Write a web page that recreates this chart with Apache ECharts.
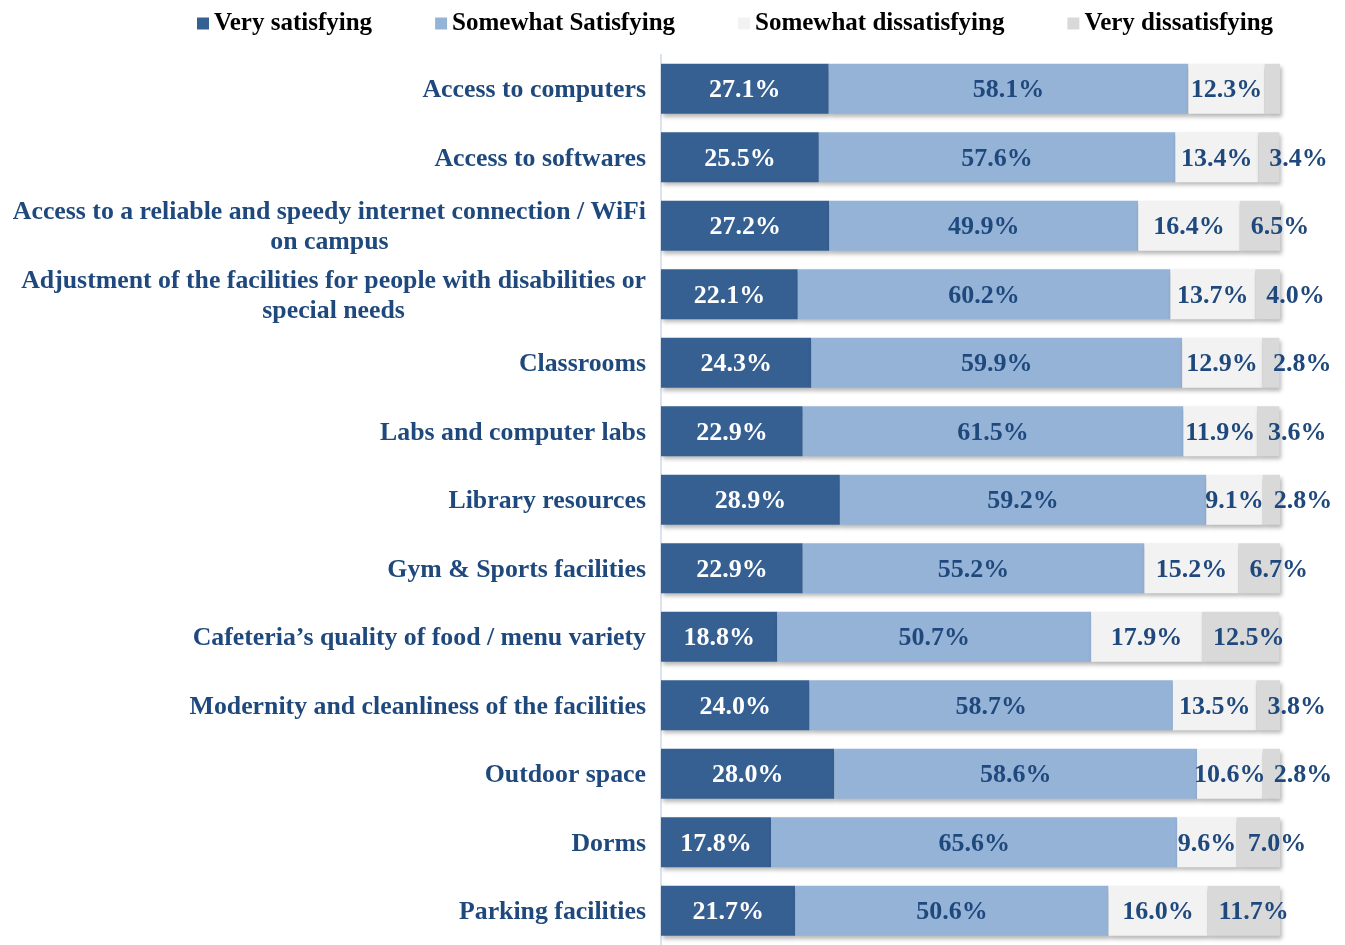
<!DOCTYPE html>
<html>
<head>
<meta charset="utf-8">
<script src="https://cdn.jsdelivr.net/npm/echarts@6/dist/echarts.min.js"></script>
<style>html,body{margin:0;padding:0;background:#fff;}#c{width:1345px;height:945px;}</style>
</head>
<body>
<div id="c"></div>
<script>
const categories = [
  "Access to computers",
  "Access to softwares",
  "Access to a reliable and speedy internet connection / WiFi\non campus",
  "Adjustment of the facilities for people with disabilities or\nspecial needs",
  "Classrooms",
  "Labs and computer labs",
  "Library resources",
  "Gym & Sports facilities",
  "Cafeteria\u2019s quality of food / menu variety",
  "Modernity and cleanliness of the facilities",
  "Outdoor space",
  "Dorms",
  "Parking facilities"
];
const seriesNames = ["Very satisfying", "Somewhat Satisfying", "Somewhat dissatisfying", "Very dissatisfying"];
const verySatisfying = [27.1, 25.5, 27.2, 22.1, 24.3, 22.9, 28.9, 22.9, 18.8, 24.0, 28.0, 17.8, 21.7];
const somewhatSatisfying = [58.1, 57.6, 49.9, 60.2, 59.9, 61.5, 59.2, 55.2, 50.7, 58.7, 58.6, 65.6, 50.6];
const somewhatDissatisfying = [12.3, 13.4, 16.4, 13.7, 12.9, 11.9, 9.1, 15.2, 17.9, 13.5, 10.6, 9.6, 16.0];
const veryDissatisfying = [2.5, 3.4, 6.5, 4.0, 2.8, 3.6, 2.8, 6.7, 12.5, 3.8, 2.8, 7.0, 11.7];
const labelShownVeryDiss = [false, true, true, true, true, true, true, true, true, true, true, true, true];

const colors = ["#366092", "#95b3d7", "#f2f2f2", "#d9d9d9"];
const textBlue = "#1f497d";
const serif = "'Liberation Serif','Times New Roman',serif";

const values = [verySatisfying, somewhatSatisfying, somewhatDissatisfying, veryDissatisfying];

const series = values.map((arr, i) => ({
  name: seriesNames[i],
  type: 'bar',
  stack: 'total',
  barWidth: 50,
  data: arr,
  itemStyle: {
    color: colors[i],
    shadowColor: 'rgba(0,0,0,0.28)',
    shadowBlur: 4,
    shadowOffsetX: 2,
    shadowOffsetY: 3
  },
  label: {
    show: true,
    position: i === 3 ? 'insideLeft' : 'inside',
    distance: i === 3 ? 11 : 5,
    offset: [0, 2],
    color: i === 0 ? '#ffffff' : textBlue,
    fontFamily: serif,
    fontWeight: 'bold',
    fontSize: 26,
    formatter: p => (i === 3 && !labelShownVeryDiss[p.dataIndex]) ? '' : p.value.toFixed(1) + '%'
  }
}));

const chart = echarts.init(document.getElementById('c'));
chart.setOption({
  animation: false,
  legend: {
    top: 6,
    left: 192,
    itemWidth: 12,
    itemHeight: 12,
    itemGap: 63,
    icon: 'rect',
    data: seriesNames,
    textStyle: { fontFamily: serif, fontWeight: 'bold', fontSize: 25, color: '#000' }
  },
  grid: { left: 661, right: 65, top: 54.5, bottom: -7.5, containLabel: false },
  xAxis: {
    type: 'value', min: 0, max: 100, show: false,
    splitLine: { show: false }
  },
  yAxis: {
    type: 'category',
    inverse: true,
    data: categories,
    axisTick: { show: false },
    axisLine: { show: true, lineStyle: { color: '#cfdaea', width: 1.5 } },
    axisLabel: {
      margin: 15,
      align: 'right',
      padding: [4, 0, 0, 0],
      fontFamily: serif,
      fontWeight: 'bold',
      fontSize: 25.8,
      color: textBlue,
      lineHeight: 30,
      formatter: v => v.split('\n').map(l => '{c|' + l + '}').join('\n'),
      rich: {
        c: { align: 'center', fontFamily: serif, fontWeight: 'bold', fontSize: 25.8, color: textBlue, lineHeight: 30 }
      }
    }
  },
  series: series
});
</script>
</body>
</html>
